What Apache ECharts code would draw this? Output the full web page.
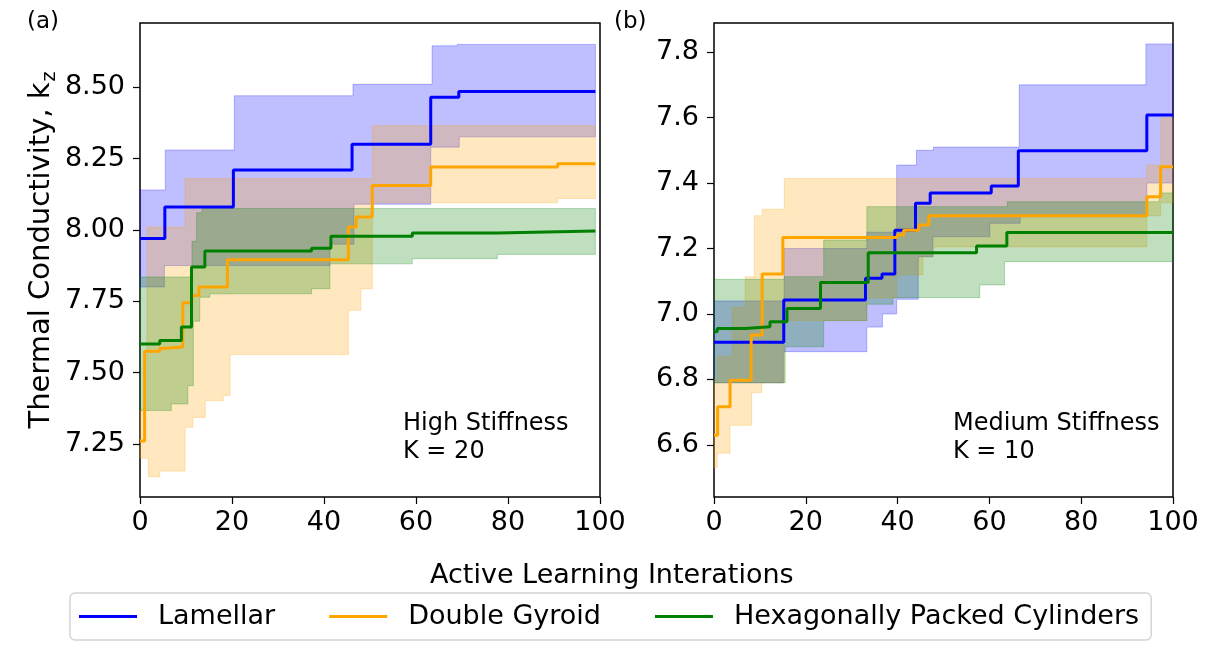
<!DOCTYPE html>
<html>
<head>
<meta charset="utf-8">
<title>Thermal Conductivity</title>
<script src="https://cdn.jsdelivr.net/npm/echarts@6/dist/echarts.min.js"></script>
<style>
    html, body { margin: 0; padding: 0; background: #fff; }
    #chart { width: 1211px; height: 649px; }
</style>
</head>
<body>
<div id="chart"></div>
<script>
// step data: [x, y] change points, last point is the end of the run
// panel (a) High Stiffness
var lamA = [[0,7.97],[5.4,8.08],[20.3,8.21],[46.1,8.30],[63.2,8.465],[69.3,8.485],[99,8.485]];
var lamA_hi = [[0,8.14],[5.5,8.28],[20.5,8.47],[46.3,8.51],[63.5,8.645],[69,8.65],[99,8.65]];
var lamA_lo = [[0,7.80],[5.3,7.875],[41.3,7.95],[46.5,8.09],[63.2,8.29],[69.4,8.326],[99,8.326]];

var dgA = [[0,7.26],[1,7.575],[4.3,7.585],[5.8,7.59],[9.3,7.745],[11.3,7.77],[12.8,7.80],[19,7.895],[45.3,8.01],[47,8.045],[50.5,8.156],[63.2,8.22],[90.8,8.232],[99,8.232]];
var dgA_hi = [[0,7.37],[1.5,8.01],[9.8,8.18],[50.5,8.365],[99,8.365]];
var dgA_lo = [[0,7.20],[1.8,7.135],[4.3,7.155],[9.8,7.308],[11.5,7.343],[14.2,7.402],[18.1,7.42],[19.6,7.563],[45.3,7.718],[48,7.794],[50.5,8.095],[90.8,8.11],[99,8.11]];

var hpcA = [[0,7.60],[4.3,7.612],[9.0,7.66],[11.2,7.87],[14.1,7.926],[37.3,7.936],[41.5,7.978],[59.2,7.989],[77.7,7.996],[99,7.996]];
var hpcA_hi = [[0,7.835],[11.3,7.96],[12.3,8.06],[13.5,8.075],[99,8.075]];
var hpcA_lo = [[0,7.367],[6.8,7.39],[10.4,7.454],[11.6,7.68],[13.0,7.764],[15.2,7.776],[37.3,7.794],[41.3,7.881],[59.2,7.899],[77.7,7.914],[99,7.914]];

// panel (b) Medium Stiffness
var lamB = [[0,6.914],[15.2,7.043],[33.0,7.109],[36.6,7.122],[39.4,7.256],[43.9,7.338],[47.1,7.37],[60.4,7.391],[66.3,7.499],[94.3,7.608],[100,7.608]];
var lamB_hi = [[0,7.04],[15.3,7.20],[33.3,7.25],[39.8,7.455],[44.1,7.50],[47.8,7.51],[66.5,7.70],[94.1,7.825],[100,7.825]];
var lamB_lo = [[0,6.79],[15.1,6.885],[33.3,6.96],[36.7,7.0],[39.8,7.045],[44.5,7.175],[47.7,7.236],[60.1,7.277],[66.7,7.297],[94.3,7.40],[100,7.40]];

var dgB = [[0,6.63],[0.8,6.717],[3.5,6.798],[8.1,6.936],[10.5,7.122],[15.0,7.234],[39.9,7.241],[41.3,7.256],[44.6,7.272],[46.8,7.30],[94.3,7.358],[97.3,7.45],[100,7.45]];
var dgB_hi = [[0,6.80],[0.7,6.87],[4,7.02],[6.8,7.114],[8.8,7.30],[10.5,7.32],[15.3,7.414],[94.3,7.455],[97.3,7.60],[100,7.60]];
var dgB_lo = [[0,6.53],[0.7,6.575],[3.5,6.66],[8.2,6.76],[10.4,6.79],[15.3,6.98],[33.3,7.05],[39.8,7.12],[45.5,7.175],[47.7,7.205],[94.3,7.30],[97.3,7.34],[100,7.34]];

var hpcB = [[0,6.946],[0.7,6.956],[6.8,6.961],[12.2,6.976],[15.9,7.017],[23.2,7.096],[33.6,7.187],[57.2,7.208],[63.8,7.249],[100,7.249]];
var hpcB_hi = [[0,7.106],[15.3,7.114],[23.9,7.226],[33.3,7.328],[63.9,7.343],[97,7.37],[100,7.37]];
var hpcB_lo = [[0,6.79],[15.5,6.90],[23.9,6.98],[33.3,7.03],[39,7.05],[57.9,7.089],[63.3,7.16],[100,7.16]];

var xTicks = [0, 20, 40, 60, 80, 100];
var yTicksA = [7.25, 7.5, 7.75, 8.0, 8.25, 8.5];
var yTicksB = [6.6, 6.8, 7.0, 7.2, 7.4, 7.6, 7.8];

var names = ["Lamellar", "Double Gyroid", "Hexagonally Packed Cylinders"];
var colors = ["#0000ff", "#ffa500", "#008000"];
var fills = ["rgba(0,0,255,0.25)", "rgba(255,165,0,0.25)", "rgba(0,128,0,0.25)"];

var FONT = "DejaVu Sans";

function stepPoints(arr) {
    var out = [];
    for (var i = 0; i < arr.length; i++) {
        out.push([arr[i][0], arr[i][1]]);
        if (i + 1 < arr.length) out.push([arr[i + 1][0], arr[i][1]]);
    }
    return out;
}

function bandSeries(id, upper, lower, fill, idx) {
    return {
        type: "custom",
        id: id,
        xAxisIndex: idx,
        yAxisIndex: idx,
        silent: true,
        z: 1,
        data: [upper[0]],
        renderItem: function (params, api) {
            var pts = stepPoints(upper).map(function (p) { return api.coord(p); });
            var low = stepPoints(lower).reverse();
            low.forEach(function (p) { pts.push(api.coord(p)); });
            return {
                type: "polygon",
                shape: { points: pts },
                style: { fill: fill, stroke: fill, lineWidth: 1 },
            };
        },
    };
}

function lineSeries(k, data, idx) {
    return {
        type: "line",
        name: names[k],
        xAxisIndex: idx,
        yAxisIndex: idx,
        data: data,
        step: "end",
        showSymbol: false,
        symbol: "none",
        color: colors[k],
        lineStyle: { color: colors[k], width: 3 },
        z: 3,
    };
}

function xAxis(idx) {
    return {
        type: "value",
        gridIndex: idx,
        min: 0,
        max: 100,
        interval: 20,
        splitLine: { show: false },
        axisLine: { show: false },
        axisTick: { show: true, length: 7, lineStyle: { color: "#000", width: 1.2 } },
        axisLabel: { color: "#000", fontSize: 27, fontFamily: FONT, margin: 12 },
    };
}

function yAxis(idx, min, max, ticks, digits) {
    return {
        type: "value",
        gridIndex: idx,
        min: min,
        max: max,
        splitLine: { show: false },
        axisLine: { show: false },
        axisTick: {
            show: true, length: 7, customValues: ticks,
            lineStyle: { color: "#000", width: 1.2 },
        },
        axisLabel: {
            color: "#000", fontSize: 27, fontFamily: FONT, margin: 15,
            customValues: ticks,
            formatter: function (v) { return v.toFixed(digits); },
        },
    };
}

var chart = echarts.init(document.getElementById("chart"));

var yA = yAxis(0, 7.064, 8.725, yTicksA, 2);
yA.name = "Thermal Conductivity, k{sub|z}";
yA.nameLocation = "middle";
yA.nameGap = 84;
yA.nameTextStyle = {
    color: "#000",
    fontSize: 29,
    fontFamily: FONT,
    padding: [0, 0, 0, 20],
    rich: { sub: { fontSize: 19, fontFamily: FONT, color: "#000", verticalAlign: "bottom", padding: [0, 0, -4, 1] } },
};

var textStyle = { color: "#000", fontFamily: FONT, fontWeight: "normal" };

var option = {
    animation: false,
    backgroundColor: "#fff",
    grid: [
        { left: 140, top: 23, width: 460, height: 474, show: true, borderColor: "#000", borderWidth: 1.5 },
        { left: 714, top: 23, width: 459, height: 474, show: true, borderColor: "#000", borderWidth: 1.5 },
    ],
    xAxis: [xAxis(0), xAxis(1)],
    yAxis: [yA, yAxis(1, 6.441, 7.889, yTicksB, 1)],
    title: [
        { text: "(a)", left: 27, top: 11, padding: 0, textStyle: Object.assign({ fontSize: 23 }, textStyle) },
        { text: "(b)", left: 614, top: 11, padding: 0, textStyle: Object.assign({ fontSize: 23 }, textStyle) },
        { text: "High Stiffness\nK = 20", left: 403, top: 410, padding: 0,
          textStyle: Object.assign({ fontSize: 24, lineHeight: 28 }, textStyle) },
        { text: "Medium Stiffness\nK = 10", left: 953, top: 410, padding: 0,
          textStyle: Object.assign({ fontSize: 24, lineHeight: 28 }, textStyle) },
        { text: "Active Learning Interations", left: 430, top: 562, padding: 0,
          textStyle: Object.assign({ fontSize: 27 }, textStyle) },
    ],
    legend: {
        data: names,
        left: 70,
        top: 593,
        orient: "horizontal",
        icon: "rect",
        itemWidth: 58,
        itemHeight: 3,
        itemGap: 54,
        padding: [10, 12, 10, 9],
        borderColor: "#d4d4d4",
        borderWidth: 1.5,
        borderRadius: 5,
        backgroundColor: "#fff",
        selectedMode: false,
        textStyle: { color: "#000", fontSize: 27, fontFamily: FONT, padding: [0, 0, 0, 16] },
    },
    series: [
        bandSeries("lamA_band", lamA_hi, lamA_lo, fills[0], 0),
        bandSeries("dgA_band", dgA_hi, dgA_lo, fills[1], 0),
        bandSeries("hpcA_band", hpcA_hi, hpcA_lo, fills[2], 0),
        bandSeries("lamB_band", lamB_hi, lamB_lo, fills[0], 1),
        bandSeries("dgB_band", dgB_hi, dgB_lo, fills[1], 1),
        bandSeries("hpcB_band", hpcB_hi, hpcB_lo, fills[2], 1),
        lineSeries(0, lamA, 0),
        lineSeries(1, dgA, 0),
        lineSeries(2, hpcA, 0),
        lineSeries(0, lamB, 1),
        lineSeries(1, dgB, 1),
        lineSeries(2, hpcB, 1),
    ],
};

chart.setOption(option);
</script>
</body>
</html>
